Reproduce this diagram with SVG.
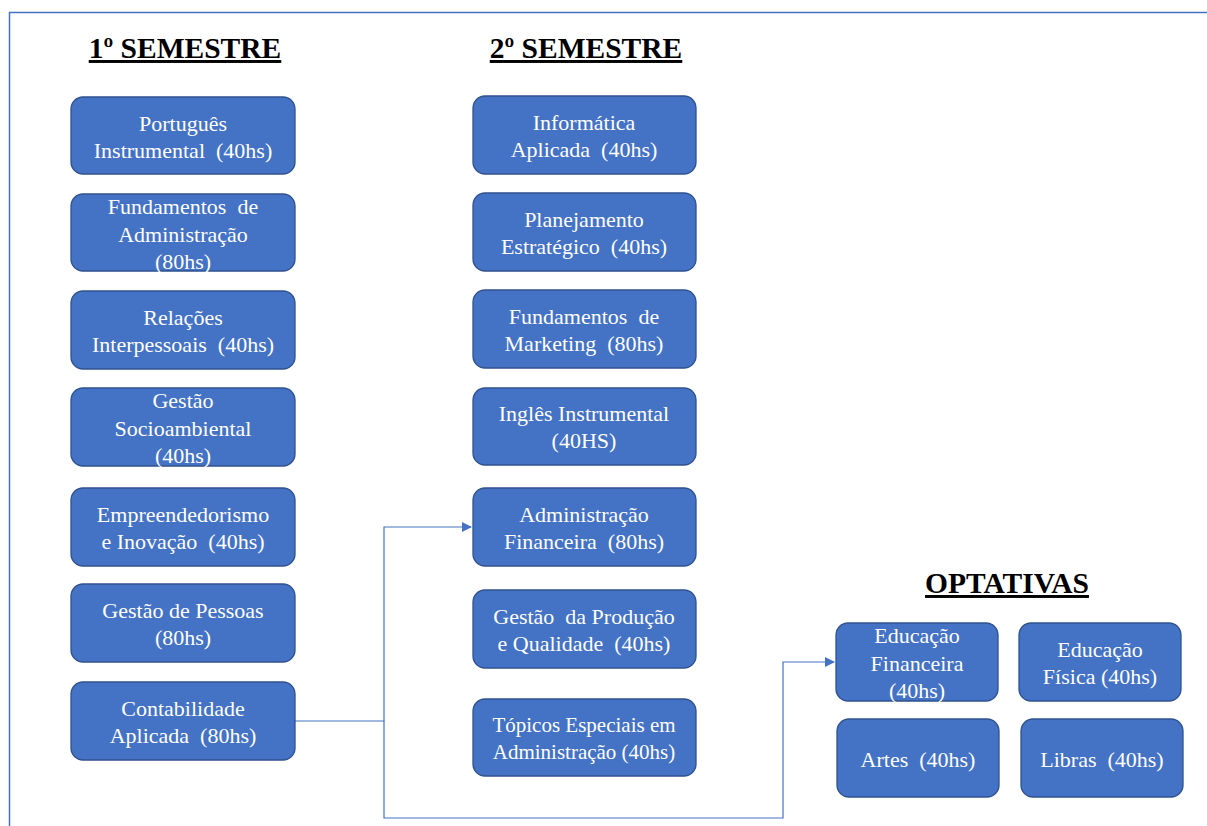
<svg xmlns="http://www.w3.org/2000/svg" width="1207" height="826" viewBox="0 0 1207 826">
<style>
.n{fill:#4472C4;stroke:#2F528F;stroke-width:1.3}
.t{font-family:'Liberation Serif','Times New Roman','DejaVu Serif',serif;font-size:22px;fill:#fff;text-anchor:middle}
.s{font-size:21px}
.h{font-family:'Liberation Serif','Times New Roman','DejaVu Serif',serif;font-size:29.5px;font-weight:bold;fill:#000;text-anchor:middle;text-decoration:underline}
.c{fill:none;stroke:#4472C4;stroke-width:1.2}
</style>
<defs>
<marker id="ah" viewBox="0 0 10 10" refX="9" refY="5" markerWidth="10" markerHeight="10" markerUnits="userSpaceOnUse" orient="auto">
<path d="M0,0L10,5L0,10z" fill="#4472C4"/>
</marker>
</defs>
<rect width="1207" height="826" fill="#fff"/>
<path d="M9.5,826V12.5H1207" fill="none" stroke="#4472C4" stroke-width="1.5"/>
<g id="headings">
<text class="h" x="185" y="58">1º SEMESTRE</text>
<text class="h" x="586" y="58">2º SEMESTRE</text>
<text class="h" x="1007" y="593">OPTATIVAS</text>
</g>
<g id="connectors">
<path class="c" d="M295,721H384V818H783V662H834" marker-end="url(#ah)"/>
<path class="c" d="M384,721V527H471" marker-end="url(#ah)"/>
</g>
<g id="n1"><rect class="n" x="71" y="97" width="224" height="77" rx="12"/><text class="t" x="183" y="131">Português</text><text class="t" x="183" y="158" xml:space="preserve">Instrumental  (40hs)</text></g>
<g id="n2"><rect class="n" x="71" y="194" width="224" height="77" rx="12"/><text class="t" x="183" y="214" xml:space="preserve">Fundamentos  de</text><text class="t" x="183" y="242">Administração</text><text class="t" x="183" y="269">(80hs)</text></g>
<g id="n3"><rect class="n" x="71" y="291" width="224" height="78" rx="12"/><text class="t" x="183" y="325">Relações</text><text class="t" x="183" y="352" xml:space="preserve">Interpessoais  (40hs)</text></g>
<g id="n4"><rect class="n" x="71" y="388" width="224" height="78" rx="12"/><text class="t" x="183" y="408">Gestão</text><text class="t" x="183" y="436">Socioambiental</text><text class="t" x="183" y="463">(40hs)</text></g>
<g id="n5"><rect class="n" x="71" y="488" width="224" height="78" rx="12"/><text class="t" x="183" y="522">Empreendedorismo</text><text class="t" x="183" y="549" xml:space="preserve">e Inovação  (40hs)</text></g>
<g id="n6"><rect class="n" x="71" y="584" width="224" height="78" rx="12"/><text class="t" x="183" y="618">Gestão de Pessoas</text><text class="t" x="183" y="645">(80hs)</text></g>
<g id="n7"><rect class="n" x="71" y="682" width="224" height="78" rx="12"/><text class="t" x="183" y="716">Contabilidade</text><text class="t" x="183" y="743" xml:space="preserve">Aplicada  (80hs)</text></g>
<g id="m1"><rect class="n" x="473" y="96" width="223" height="78" rx="12"/><text class="t" x="584" y="130">Informática</text><text class="t" x="584" y="157" xml:space="preserve">Aplicada  (40hs)</text></g>
<g id="m2"><rect class="n" x="473" y="193" width="223" height="78" rx="12"/><text class="t" x="584" y="227">Planejamento</text><text class="t" x="584" y="254" xml:space="preserve">Estratégico  (40hs)</text></g>
<g id="m3"><rect class="n" x="473" y="290" width="223" height="78" rx="12"/><text class="t" x="584" y="324" xml:space="preserve">Fundamentos  de</text><text class="t" x="584" y="351" xml:space="preserve">Marketing  (80hs)</text></g>
<g id="m4"><rect class="n" x="473" y="388" width="223" height="77" rx="12"/><text class="t" x="584" y="421">Inglês Instrumental</text><text class="t" x="584" y="448">(40HS)</text></g>
<g id="m5"><rect class="n" x="473" y="488" width="223" height="78" rx="12"/><text class="t" x="584" y="522">Administração</text><text class="t" x="584" y="549" xml:space="preserve">Financeira  (80hs)</text></g>
<g id="m6"><rect class="n" x="473" y="590" width="223" height="78" rx="12"/><text class="t" x="584" y="624" xml:space="preserve">Gestão  da Produção</text><text class="t" x="584" y="651" xml:space="preserve">e Qualidade  (40hs)</text></g>
<g id="m7"><rect class="n" x="473" y="699" width="223" height="77" rx="12"/><text class="t s" x="584" y="732">Tópicos Especiais em</text><text class="t s" x="584" y="759">Administração (40hs)</text></g>
<g id="o1"><rect class="n" x="836" y="623" width="162" height="78" rx="12"/><text class="t" x="917" y="643">Educação</text><text class="t" x="917" y="671">Financeira</text><text class="t" x="917" y="698">(40hs)</text></g>
<g id="o2"><rect class="n" x="1019" y="623" width="162" height="78" rx="12"/><text class="t" x="1100" y="657">Educação</text><text class="t" x="1100" y="684">Física (40hs)</text></g>
<g id="o3"><rect class="n" x="837" y="719" width="162" height="78" rx="12"/><text class="t" x="918" y="767" xml:space="preserve">Artes  (40hs)</text></g>
<g id="o4"><rect class="n" x="1021" y="719" width="162" height="78" rx="12"/><text class="t" x="1102" y="767" xml:space="preserve">Libras  (40hs)</text></g>
</svg>
